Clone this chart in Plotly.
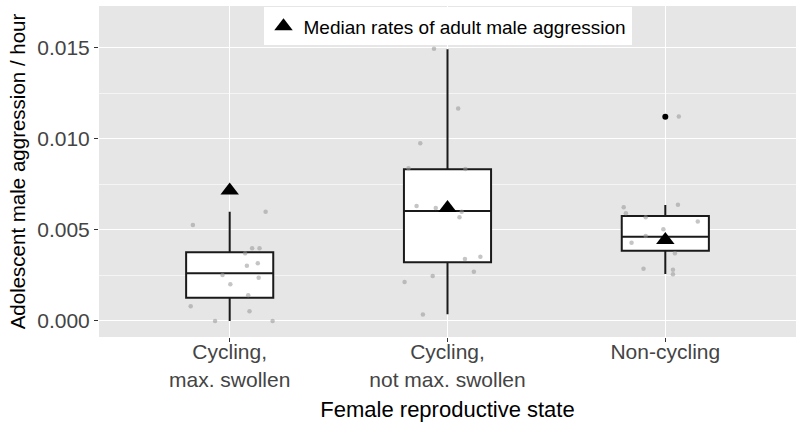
import plotly.graph_objects as go

states = ["Cycling,<br>max. swollen", "Cycling,<br>not max. swollen", "Non-cycling"]
positions = [1, 2, 3]

# box summaries
q1 = [0.00128, 0.00322, 0.00386]
median = [0.00262, 0.00604, 0.00463]
q3 = [0.00377, 0.00834, 0.00577]
lower = [0.0, 0.00037, 0.00258]
upper = [0.0060, 0.01493, 0.00637]

# outliers
outlier_x = [3]
outlier_y = [0.01122]

# median adult male aggression
adult_median = [0.00716, 0.0062, 0.00445]

# jittered raw observations: group, horizontal jitter, value
pts_group = [1] * 15 + [2] * 15 + [3] * 13
pts_jitter = [
    -0.169, 0.165, 0.103, 0.137, 0.071, 0.079, 0.129, -0.033, 0.003, 0.133, 0.085, -0.179, 0.091, -0.067, 0.197,
    -0.062, 0.049, -0.125, -0.179, 0.082, -0.142, -0.054, 0.065, 0.055, 0.151, 0.080, 0.121, -0.068, -0.197, -0.113,
    0.062, -0.191, 0.058, -0.181, -0.09, 0.149, -0.009, -0.09, -0.155, 0.044, -0.10, 0.035, 0.035,
]
pts_value = [
    0.00527, 0.0060, 0.0040, 0.0040, 0.00372, 0.00304, 0.00317, 0.00253, 0.00202, 0.00238, 0.00141, 0.00081, 0.00053, 0.0, 0.0,
    0.01495, 0.01167, 0.00976, 0.00839, 0.00835, 0.00632, 0.00621, 0.0060, 0.0057, 0.00353, 0.00341, 0.00271, 0.00247, 0.00214, 0.00035,
    0.01123, 0.00625, 0.00639, 0.00592, 0.0057, 0.00546, 0.00504, 0.00467, 0.00429, 0.00372, 0.00287, 0.00282, 0.00257,
]

FONT = "Liberation Sans, Arial, sans-serif"

fig = go.Figure()

fig.add_trace(go.Box(
    x=positions, q1=q1, median=median, q3=q3, lowerfence=lower, upperfence=upper,
    width=0.4, whiskerwidth=0, fillcolor="white",
    line=dict(color="#1a1a1a", width=2), boxpoints=False,
    showlegend=False, hoverinfo="skip",
))

fig.add_trace(go.Scatter(
    x=[g + j for g, j in zip(pts_group, pts_jitter)], y=pts_value, mode="markers",
    marker=dict(color="rgba(150,150,150,0.55)", size=4.5), showlegend=False,
))

fig.add_trace(go.Scatter(
    x=outlier_x, y=outlier_y, mode="markers",
    marker=dict(color="black", size=6), showlegend=False,
))

fig.add_trace(go.Scatter(
    x=positions, y=adult_median, mode="markers", name="Median rates of adult male aggression",
    marker=dict(symbol="triangle-up", color="black", size=16), showlegend=True,
))

fig.update_layout(
    width=803, height=428,
    margin=dict(l=99, r=7, t=6, b=91),
    paper_bgcolor="white", plot_bgcolor="#E6E6E6",
    font=dict(family=FONT, size=21, color="#444444"),
    legend=dict(
        x=0.5, xanchor="center", y=0.996, yanchor="top",
        bgcolor="white", font=dict(size=19, color="black"),
        itemwidth=30, tracegroupgap=0,
    ),
)

fig.update_xaxes(
    range=[0.4, 3.6], tickvals=positions, ticktext=states, automargin=False,
    showgrid=True, gridcolor="white", gridwidth=1.2, zeroline=False,
    ticks="outside", ticklen=4, tickcolor="#333333", ticklabelstandoff=-8,
    title=dict(text="Female reproductive state", font=dict(size=22, color="black"), standoff=12),
)

fig.update_yaxes(
    range=[-0.00088, 0.0173], tickvals=[0, 0.005, 0.010, 0.015], tickformat=".3f", automargin=False,
    showgrid=True, gridcolor="white", gridwidth=1.2, zeroline=False,
    minor=dict(dtick=0.0025, tick0=0, showgrid=True, gridcolor="#F5F5F5", gridwidth=0.6),
    ticks="outside", ticklen=4, tickcolor="#333333",
    title=dict(text="Adolescent male aggression / hour", font=dict(size=20.5, color="black"), standoff=6),
)

fig.write_html("out.html", config={"displayModeBar": False},
               post_script="document.body.style.margin='0';")
